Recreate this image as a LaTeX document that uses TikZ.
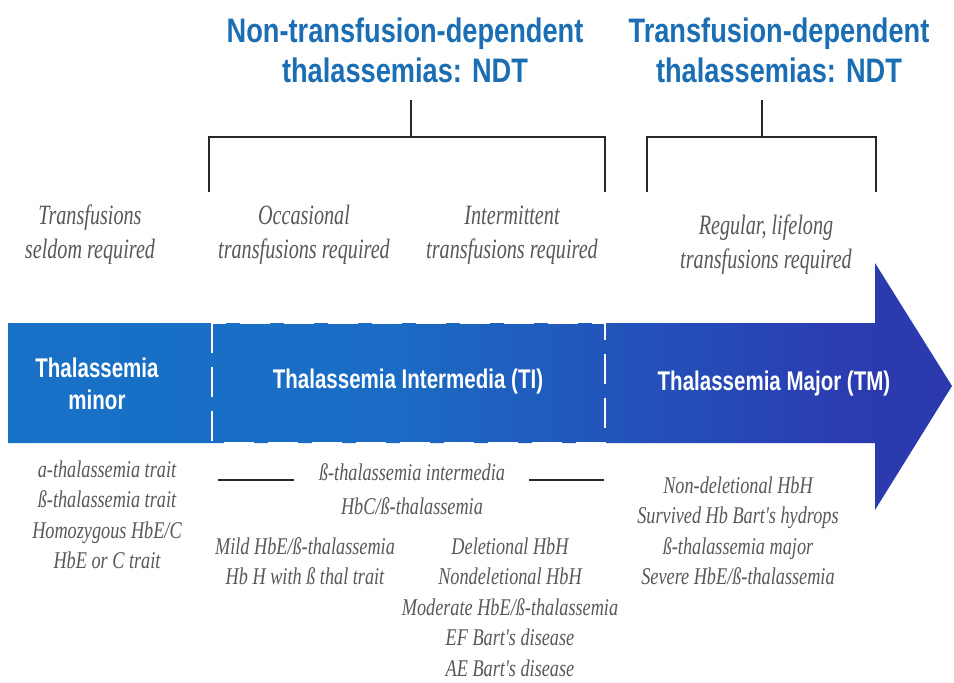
\documentclass[tikz,border=0pt]{standalone}
\usepackage{fontspec}
\setmainfont{Liberation Serif}
\newfontfamily\headfont[FakeStretch=0.8]{Liberation Sans}
\newfontfamily\bandfont[FakeStretch=0.76]{Liberation Sans}
\newfontfamily\notefont[FakeStretch=0.72]{Liberation Serif}
\newfontfamily\listfont[FakeStretch=0.76]{Liberation Serif}

\definecolor{headblue}{RGB}{27,110,180}
\definecolor{notegray}{RGB}{88,88,88}
\definecolor{bandA}{RGB}{20,121,204}
\definecolor{bandB}{RGB}{26,108,196}
\definecolor{bandC}{RGB}{43,59,176}
\definecolor{bandD}{RGB}{45,48,158}
\definecolor{bracketgray}{RGB}{40,40,40}

\pgfdeclarehorizontalshading{bandshade}{100bp}{%
  color(0bp)=(bandA); color(45bp)=(bandB); color(70bp)=(bandC); color(100bp)=(bandD)}

\tikzset{
  head/.style={font=\headfont\bfseries\fontsize{34}{40}\selectfont, text=headblue, align=center, inner sep=0pt},
  note/.style={font=\notefont\itshape\fontsize{28}{34}\selectfont, text=notegray, align=center, inner sep=0pt},
  band/.style={font=\bandfont\bfseries\fontsize{27}{32}\selectfont, text=white, align=center, inner sep=0pt},
  item/.style={font=\listfont\itshape\fontsize{24}{30.5}\selectfont, text=notegray, align=center, inner sep=0pt},
  bracket/.style={draw=bracketgray, line width=1.8pt},
  rule/.style={draw=bracketgray, line width=1.6pt},
}

\begin{document}
\begin{tikzpicture}[x=1pt, y=-1pt]
  \path[use as bounding box, fill=white] (0,0) rectangle (954,683);

  % severity arrow
  \shade[shading=bandshade]
    (8,323) -- (875,323) -- (875,263) -- (952,386) -- (875,510) -- (875,443) -- (8,443) -- cycle;
  % dashed frame around the intermedia range
  \draw[white, line width=1.6pt, dash pattern=on 30pt off 14pt]
    (212,323) rectangle (605,443);

  % group headers
  \node[head] (ntdt) at (405,50) {Non-transfusion-dependent\\thalassemias: NDT};
  \node[head] (tdt)  at (779,50) {Transfusion-dependent\\thalassemias: NDT};

  % brackets
  \coordinate (ntdtstem) at (411,100);
  \coordinate (ntdtmid)  at (411,137);
  \coordinate (ntdtL)    at (209,137);
  \coordinate (ntdtR)    at (605,137);
  \coordinate (ntdtLb)   at (209,192);
  \coordinate (ntdtRb)   at (605,192);
  \coordinate (tdtstem)  at (762,100);
  \coordinate (tdtmid)   at (762,137);
  \coordinate (tdtL)     at (647,137);
  \coordinate (tdtR)     at (876,137);
  \coordinate (tdtLb)    at (647,192);
  \coordinate (tdtRb)    at (876,192);
  \draw[bracket] (ntdtLb) -- (ntdtL) -- (ntdtR) -- (ntdtRb);
  \draw[bracket] (ntdtstem) -- (ntdtmid);
  \draw[bracket] (tdtLb) -- (tdtL) -- (tdtR) -- (tdtRb);
  \draw[bracket] (tdtstem) -- (tdtmid);

  % transfusion needs
  \node[note] (seldom) at (90,235)  {Transfusions\\seldom required};
  \node[note] (occ)    at (304,235) {Occasional\\transfusions required};
  \node[note] (inter)  at (512,235) {Intermittent\\transfusions required};
  \node[note] (reg)    at (766,245) {Regular, lifelong\\transfusions required};

  % labels on the arrow
  \node[band] (minor) at (97,384)  {Thalassemia\\minor};
  \node[band] (ti)    at (408,382) {Thalassemia Intermedia (TI)};
  \node[band] (tm)    at (774,384) {Thalassemia Major (TM)};

  % conditions in each range
  \node[item] (minorlist) at (107,515)
    {a-thalassemia trait\\ß-thalassemia trait\\Homozygous HbE/C\\HbE or C trait};
  \node[item] (bti) at (412,472) {ß-thalassemia intermedia};
  \node[item] (hbc) at (412,506) {HbC/ß-thalassemia};
  \coordinate (ruleLa) at (218,480);
  \coordinate (ruleLb) at (294,480);
  \coordinate (ruleRa) at (529,480);
  \coordinate (ruleRb) at (604,480);
  \draw[rule] (ruleLa) -- (ruleLb);
  \draw[rule] (ruleRa) -- (ruleRb);
  \node[item] (mild) at (305,561) {Mild HbE/ß-thalassemia\\Hb H with ß thal trait};
  \node[item] (hbh)  at (510,607)
    {Deletional HbH\\Nondeletional HbH\\Moderate HbE/ß-thalassemia\\EF Bart's disease\\AE Bart's disease};
  \node[item] (majorlist) at (738,531)
    {Non-deletional HbH\\Survived Hb Bart's hydrops\\ß-thalassemia major\\Severe HbE/ß-thalassemia};
\end{tikzpicture}
\end{document}
